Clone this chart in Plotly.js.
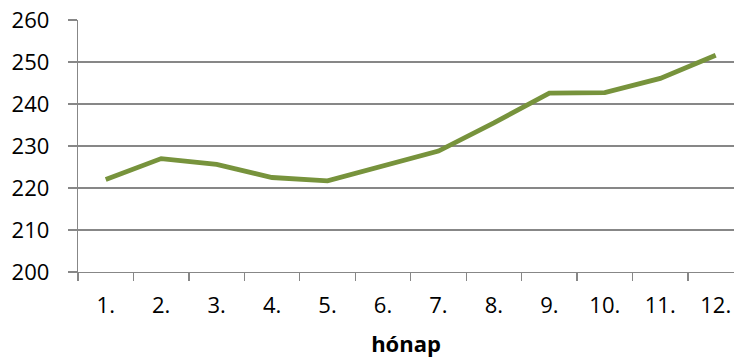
<!DOCTYPE html>
<html>
<head>
<meta charset="utf-8">
<script src="https://cdn.plot.ly/plotly-3.0.1.min.js"></script>
<style>
  html, body { margin: 0; padding: 0; background: #fff; }
  #chart { width: 734px; height: 360px; }
</style>
</head>
<body>
<div id="chart"></div>
<script>
// Monthly values (hónap = month)
const months = ['1.', '2.', '3.', '4.', '5.', '6.', '7.', '8.', '9.', '10.', '11.', '12.'];
const values = [222.0, 227.0, 225.6, 222.5, 221.7, 225.2, 228.8, 235.5, 242.6, 242.7, 246.1, 251.6];
const yTicks = [200, 210, 220, 230, 240, 250, 260];

const axisGray = '#878787';
const font = 'Open Sans, DejaVu Sans, sans-serif';

const trace = {
  x: months,
  y: values,
  type: 'scatter',
  mode: 'lines',
  line: { color: '#77933C', width: 4.8 },
  hoverinfo: 'skip'
};

const layout = {
  width: 734,
  height: 360,
  margin: { l: 78, r: 0, t: 20, b: 88 },
  paper_bgcolor: '#ffffff',
  plot_bgcolor: '#ffffff',
  showlegend: false,
  font: { family: font, size: 22, color: '#000000' },
  xaxis: {
    type: 'category',
    categoryorder: 'array',
    categoryarray: months,
    range: [-0.5, 11.33],
    tickson: 'boundaries',
    ticks: 'outside',
    ticklen: 8,
    tickwidth: 1.3,
    tickcolor: axisGray,
    showline: true,
    linecolor: axisGray,
    linewidth: 1.3,
    showgrid: false,
    zeroline: false,
    ticklabelstandoff: 13,
    tickfont: { family: font, size: 22, color: '#000000' },
    title: {
      text: 'hónap',
      font: { family: font, size: 22, color: '#000000', weight: 'bold' },
      standoff: 19
    }
  },
  yaxis: {
    range: [200, 260],
    tickvals: yTicks,
    ticktext: yTicks.map(String),
    ticks: 'outside',
    ticklen: 9,
    tickwidth: 1.3,
    tickcolor: axisGray,
    showline: true,
    linecolor: axisGray,
    linewidth: 1.3,
    showgrid: true,
    gridcolor: axisGray,
    gridwidth: 1.3,
    zeroline: false,
    ticklabelstandoff: 14,
    tickfont: { family: font, size: 22, color: '#000000' }
  }
};

Plotly.newPlot('chart', [trace], layout, { staticPlot: true, displayModeBar: false });
</script>
</body>
</html>
